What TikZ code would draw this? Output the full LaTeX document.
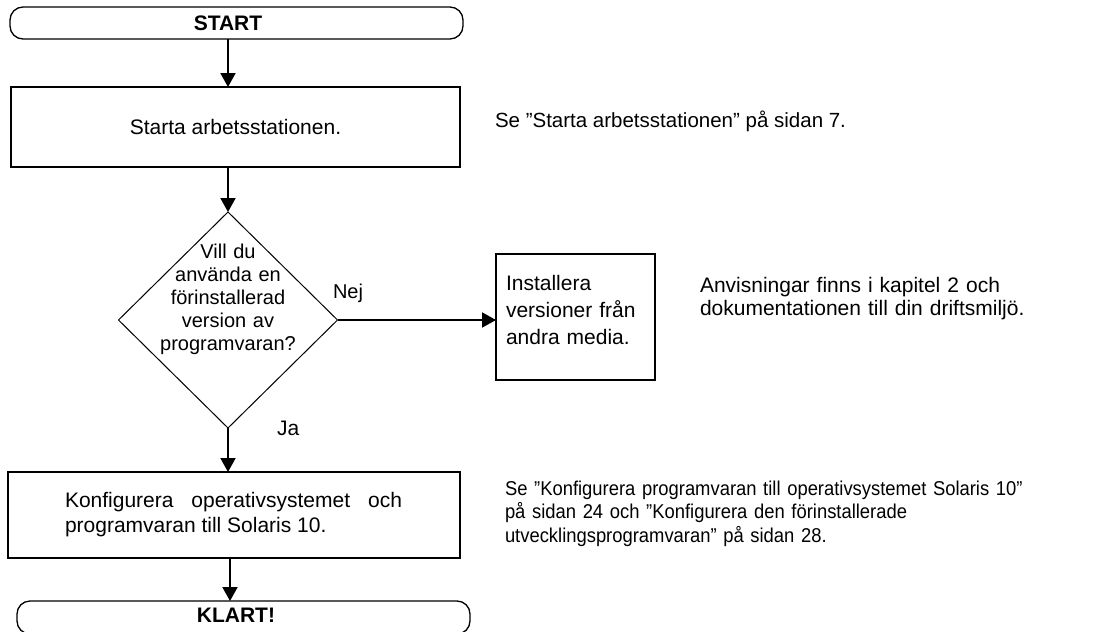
\documentclass[tikz,border=0pt]{standalone}
\usepackage{fontspec}
\setmainfont{Liberation Sans}
\newfontfamily\narrowfont[FakeStretch=0.92]{Liberation Sans}
\usetikzlibrary{arrows.meta,shapes.geometric}
\begin{document}
\begin{tikzpicture}[x=1pt,y=-1pt,
  every node/.style={inner sep=0pt, outer sep=0pt},
  term/.style={draw, line width=1.3pt, rounded corners=13pt, rectangle},
  procbox/.style={draw, line width=2pt, rectangle},
  decision/.style={draw, line width=1pt, diamond},
  txt/.style={font=\fontsize{21}{26}\selectfont},
  bold/.style={font=\fontsize{21}{26}\selectfont\bfseries},
  dtxt/.style={font=\fontsize{20}{23}\selectfont, align=center, text width=160pt, anchor=base},
  note/.style={font=\fontsize{21}{23.5}\selectfont, align=left, anchor=base west},
  arr/.style={line width=2pt, -{Triangle[width=15pt,length=14pt]}}
]
\useasboundingbox (0,0) rectangle (1098,632);
\fill[white] (0,0) rectangle (1098,632);

% shapes
\node[term, minimum width=453pt, minimum height=32pt] (start) at (236.5,23) {};
\node[bold, anchor=base] (starttxt) at (228,30) {START};

\node[procbox, minimum width=449pt, minimum height=80pt, txt] (box1) at (235.5,127) {Starta arbetsstationen.};

\node[decision, minimum width=219pt, minimum height=216pt] (dec) at (228,320) {};
\node[dtxt] (dectxt) at (228,258) {Vill du\\använda en\\förinstallerad\\version av\\programvaran?};

\node[procbox, minimum width=159pt, minimum height=126pt] (inst) at (575.5,317) {};
\node[txt, text width=145pt, align=left, anchor=base west, font=\fontsize{21}{27}\selectfont] (insttxt) at (506,290) {Installera\\versioner från\\andra media.};

\node[procbox, minimum width=452pt, minimum height=86pt] (box3) at (234,515) {};
\node[font=\fontsize{21}{25}\selectfont, text width=337pt, align=justify, anchor=base west] (box3txt) at (65,507) {Konfigurera operativsystemet och\linebreak programvaran till Solaris~10.};

\node[term, minimum width=453pt, minimum height=33pt] (klart) at (243.5,617.5) {};
\node[bold, anchor=base] (klarttxt) at (236,622) {KLART!};

% branch labels
\node[font=\fontsize{20}{24}\selectfont, anchor=base west] (nej) at (333,298) {Nej};
\node[font=\fontsize{21}{24}\selectfont, anchor=base west] (ja) at (277,435) {Ja};

% notes
\node[font=\fontsize{20.5}{24}\selectfont, anchor=base west] (note1) at (495,127) {Se ”Starta arbetsstationen” på sidan 7.};
\node[note, text width=380pt] (note2) at (700,292) {Anvisningar finns i kapitel 2 och\\dokumentationen till din driftsmiljö.};
\node[note, text width=580pt, font=\narrowfont\fontsize{20}{23.5}\selectfont] (note3) at (505,495) {Se ”Konfigurera programvaran till operativsystemet Solaris 10”\\på sidan 24 och ”Konfigurera den förinstallerade\\utvecklingsprogramvaran” på sidan 28.};

% connectors
\draw[arr] (start.south -| dec.north) -- (box1.north -| dec.north);
\draw[arr] (box1.south -| dec.north) -- (dec.north);
\draw[arr] (dec.east) -- (inst.west |- dec.east);
\draw[arr] (dec.south) -- (box3.north -| dec.south);
\draw[arr] ([xshift=2pt]box3.south -| dec.south) -- ([xshift=2pt]klart.north -| dec.south);
\end{tikzpicture}
\end{document}
